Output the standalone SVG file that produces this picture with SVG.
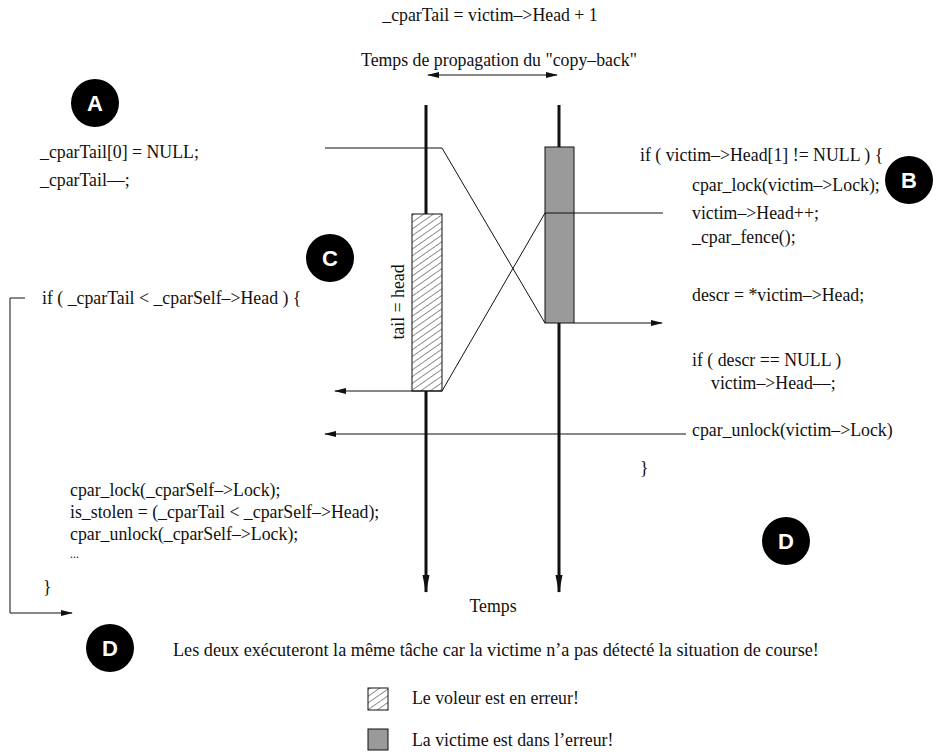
<svg xmlns="http://www.w3.org/2000/svg" width="948" height="755" viewBox="0 0 948 755">
  <style>
    text { font-family: "Liberation Serif", "Times New Roman", serif; font-size: 17.8px; fill: #111; }
    .thin { stroke: #111; stroke-width: 1; fill: none; }
    .axis { stroke: #111; stroke-width: 3; fill: none; }
    .badge circle { fill: #000; }
    .badge text { font-family: "Liberation Sans", Arial, sans-serif; font-weight: bold; font-size: 22px; fill: #fff; text-anchor: middle; }
  </style>
  <defs>
    <pattern id="hatch" width="5.5" height="5.5" patternUnits="userSpaceOnUse" patternTransform="rotate(-35)">
      <rect width="6" height="6" fill="#fff"/>
      <line x1="0" y1="0" x2="6" y2="0" stroke="#222" stroke-width="1"/>
    </pattern>
    <marker id="arr" markerWidth="12" markerHeight="8" refX="11" refY="4" orient="auto" markerUnits="userSpaceOnUse">
      <path d="M0,1 L12,4 L0,7 Z" fill="#111"/>
    </marker>
    <marker id="arrStart" markerWidth="12" markerHeight="8" refX="1" refY="4" orient="auto" markerUnits="userSpaceOnUse">
      <path d="M12,1 L0,4 L12,7 Z" fill="#111"/>
    </marker>
    <marker id="axisArr" markerWidth="10" markerHeight="18" refX="5" refY="17" orient="0" markerUnits="userSpaceOnUse">
      <path d="M1.5,0 L5,18 L8.5,0 Z" fill="#111"/>
    </marker>
  </defs>

  <!-- headings -->
  <text x="490" y="21" text-anchor="middle">_cparTail = victim–&gt;Head + 1</text>
  <text x="499" y="66" text-anchor="middle">Temps de propagation du "copy–back"</text>

  <!-- time axes -->
  <g id="axes">
    <line class="axis" x1="426" y1="105" x2="426" y2="592" marker-end="url(#axisArr)"/>
    <line class="axis" x1="559" y1="105" x2="559" y2="592" marker-end="url(#axisArr)"/>
    <text x="493" y="612" text-anchor="middle">Temps</text>
  </g>

  <!-- critical sections on each timeline -->
  <g id="thief-window">
    <rect x="412" y="214" width="30" height="177" fill="url(#hatch)" stroke="#111" stroke-width="1"/>
    <text transform="translate(404,302) rotate(-90)" text-anchor="middle">tail = head</text>
  </g>
  <g id="victim-window">
    <rect x="545" y="147" width="29" height="176" fill="#9a9a9a" stroke="#111" stroke-width="1"/>
    <line class="thin" x1="545" y1="213" x2="574" y2="213"/>
  </g>

  <!-- messages between the two processors -->
  <g id="connectors">
    <line x1="428" y1="75" x2="557" y2="75" class="thin" marker-start="url(#arrStart)" marker-end="url(#arr)"/>
    <polyline class="thin" points="325,148 442,148 545,323"/>
    <line class="thin" x1="574" y1="323" x2="662" y2="323" marker-end="url(#arr)"/>
    <polyline class="thin" points="663,213 574,213"/>
    <polyline class="thin" points="545,213 442,391 412,391"/>
    <line class="thin" x1="412" y1="391" x2="335" y2="391" marker-end="url(#arr)"/>
    <line class="thin" x1="686" y1="434" x2="325" y2="434" marker-end="url(#arr)"/>
    <polyline class="thin" points="25,298 10,298 10,613 72,613" marker-end="url(#arr)"/>
  </g>

  <!-- thief code -->
  <g id="thief-code">
    <text x="40" y="158">_cparTail[0] = NULL;</text>
    <text x="40" y="186">_cparTail––;</text>
    <text x="42" y="304">if ( _cparTail &lt; _cparSelf–&gt;Head ) {</text>
    <text x="70" y="496">cpar_lock(_cparSelf–&gt;Lock);</text>
    <text x="70" y="518">is_stolen = (_cparTail &lt; _cparSelf–&gt;Head);</text>
    <text x="70" y="540">cpar_unlock(_cparSelf–&gt;Lock);</text>
    <text x="70" y="558" style="font-size:12px">...</text>
    <text x="43" y="593">}</text>
  </g>

  <!-- victim code -->
  <g id="victim-code">
    <text x="640" y="161">if ( victim–&gt;Head[1] != NULL ) {</text>
    <text x="692" y="191">cpar_lock(victim–&gt;Lock);</text>
    <text x="692" y="219">victim–&gt;Head++;</text>
    <text x="692" y="243">_cpar_fence();</text>
    <text x="692" y="301">descr = *victim–&gt;Head;</text>
    <text x="692" y="366">if ( descr == NULL )</text>
    <text x="711" y="389">victim–&gt;Head––;</text>
    <text x="692" y="436">cpar_unlock(victim–&gt;Lock)</text>
    <text x="640" y="474">}</text>
  </g>

  <!-- step badges -->
  <g id="badge-A" class="badge"><circle cx="95" cy="103" r="24"/><text x="95" y="111">A</text></g>
  <g id="badge-B" class="badge"><circle cx="909" cy="180" r="24"/><text x="909" y="188">B</text></g>
  <g id="badge-C" class="badge"><circle cx="330" cy="258" r="24"/><text x="330" y="266">C</text></g>
  <g id="badge-D1" class="badge"><circle cx="786" cy="541" r="24"/><text x="786" y="549">D</text></g>
  <g id="badge-D2" class="badge"><circle cx="110" cy="648" r="24"/><text x="110" y="656">D</text></g>

  <text x="173" y="656" style="font-size:18.2px">Les deux exécuteront la même tâche car la victime n’a pas détecté la situation de course!</text>

  <!-- legend -->
  <g id="legend">
    <rect x="368" y="688" width="20" height="22" fill="url(#hatch)" stroke="#111" stroke-width="1"/>
    <text x="412" y="704">Le voleur est en erreur!</text>
    <rect x="368" y="729" width="20" height="21" fill="#9a9a9a" stroke="#111" stroke-width="1"/>
    <text x="412" y="746">La victime est dans l’erreur!</text>
  </g>
</svg>
